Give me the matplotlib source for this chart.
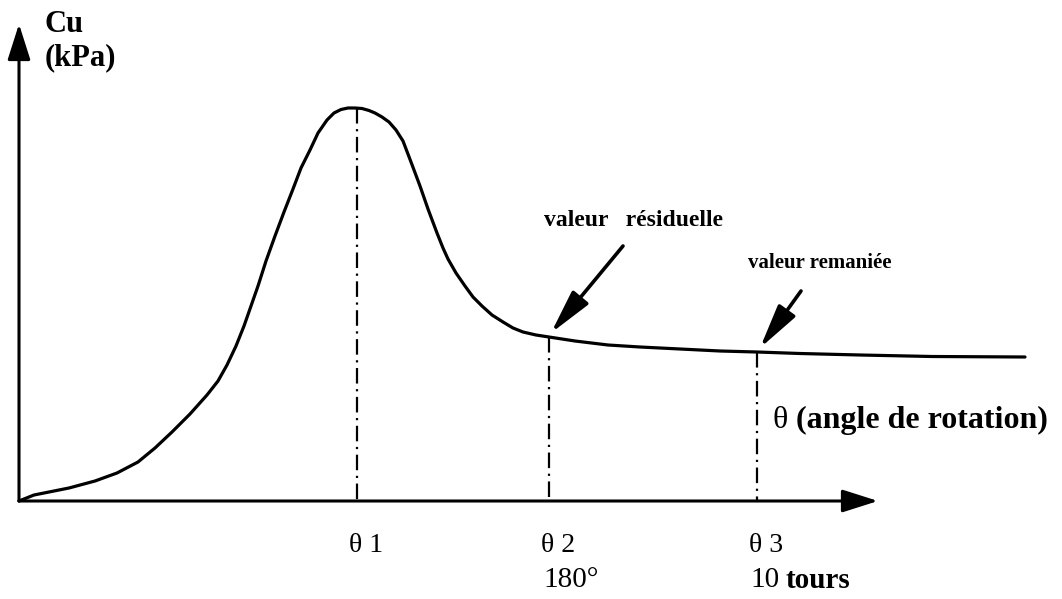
import matplotlib
matplotlib.use("Agg")
import matplotlib.pyplot as plt

# shear strength vs rotation angle, drawn in sheet units (y grows downward)
curve_x = [19, 34, 69, 95, 117, 138, 155, 172, 190, 207, 218, 227, 236, 244, 251,
           258, 266, 275, 284, 293, 301, 310, 318, 327, 334, 341, 348, 355, 362,
           369, 375, 382, 389, 396, 403, 411, 420, 428, 437, 443, 448, 456, 465,
           473, 482, 492, 503, 513, 523, 536, 549, 575, 608, 640, 680, 720, 757,
           800, 860, 932, 1025]
curve_y = [501, 495, 488, 481, 473, 462, 448, 432, 414, 395, 381, 365, 346, 326, 306,
           286, 261, 236, 212, 189, 168, 150, 133, 120, 113, 109.5, 108, 108, 108.5,
           110.5, 113, 117, 122, 130, 141, 162, 186, 209, 233, 248, 259, 273, 286,
           297, 306, 315, 322, 328, 332, 335, 337, 341, 345, 347, 349, 351, 352,
           353.5, 355, 356.5, 357]

origin = (19, 501)
x_tip = 878
y_tip = 24

# peak, residual and remoulded angles
theta_x = [357, 549, 757]
theta_top = [108, 337, 352]
theta_names = ["θ 1", "θ 2", "θ 3"]

# annotation arrows: (label, label pos, size, tail, head)
notes = [
    ("valeur   résiduelle", (633, 221), 17, (623, 246), (551, 333)),
    ("valeur remaniée", (820, 263), 15, (801, 291), (760, 348)),
]

serif = "Liberation Serif"

fig = plt.figure(figsize=(10.62, 5.99), dpi=100)
ax = fig.add_axes([0, 0, 1, 1])
ax.set_xlim(0, 1062)
ax.set_ylim(599, 0)
ax.axis("off")

# axes with arrow heads
axis_arrow = dict(arrowstyle="-|>,head_length=1.1,head_width=0.35", lw=2.2,
                  color="black", shrinkA=0, shrinkB=0, mutation_scale=20)
ax.annotate("", xy=(x_tip, origin[1]), xytext=origin, arrowprops=axis_arrow)
ax.annotate("", xy=(origin[0], y_tip), xytext=origin, arrowprops=axis_arrow)

ax.plot(curve_x, curve_y, color="black", lw=2.3, solid_capstyle="round",
        solid_joinstyle="round")

# dash-dot drop lines
for x, top in zip(theta_x, theta_top):
    ax.plot([x, x], [top, origin[1]], color="black", lw=1.6,
            linestyle=(0, (7, 2.5, 1, 2.5)))

for x, name in zip(theta_x, theta_names):
    ax.text(x - 8, 545, name, family=serif, fontsize=20, ha="left", va="center")

ax.text(theta_x[1] - 6, 580, "180°", family=serif, fontsize=21, ha="left", va="center")
ax.text(theta_x[2] - 7, 580, "10", family=serif, fontsize=21, ha="left", va="center")
ax.text(theta_x[2] + 28, 580, "tours", family=serif, fontsize=21, fontweight="bold",
        ha="left", va="center")

ax.text(45, 25, "Cu", family=serif, fontsize=22, fontweight="bold", ha="left", va="center")
ax.text(45, 58, "(kPa)", family=serif, fontsize=22, fontweight="bold", ha="left", va="center")

ax.text(773, 420, "θ", family=serif, fontsize=23, ha="left", va="center")
ax.text(796, 420, "(angle de rotation)", family=serif, fontsize=23, fontweight="bold",
        ha="left", va="center")

for label, pos, size, tail, head in notes:
    ax.text(pos[0], pos[1], label, family=serif, fontsize=size, fontweight="bold",
            ha="center", va="center")
    ax.annotate("", xy=head, xytext=tail,
                arrowprops=dict(arrowstyle="-|>,head_length=1.5,head_width=0.35",
                                lw=2.6, color="black", shrinkA=0, shrinkB=0,
                                mutation_scale=18))

fig.savefig("out.png", dpi=100, facecolor="white")
